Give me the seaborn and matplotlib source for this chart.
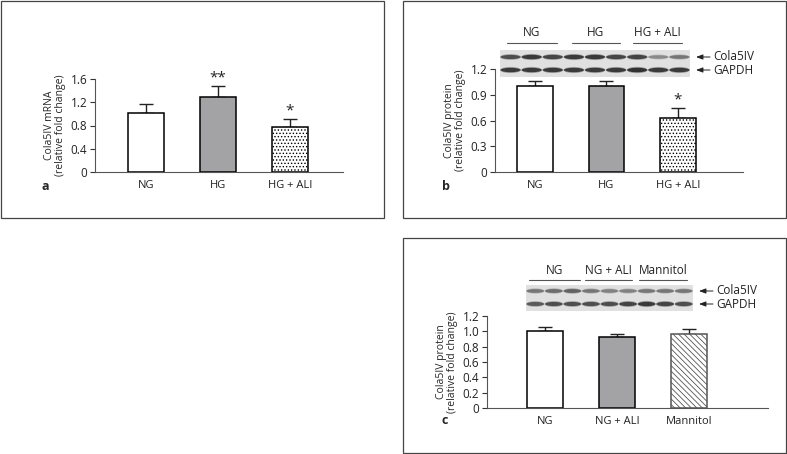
import numpy as np
import matplotlib
matplotlib.use('Agg')
import matplotlib.pyplot as plt
import seaborn as sns
from matplotlib.patches import Rectangle, Ellipse

sns.set_style('ticks')
plt.rcParams['font.family'] = ['Open Sans', 'DejaVu Sans']
plt.rcParams['hatch.linewidth'] = 0.6

# panel a - mRNA
cats_a = ['NG', 'HG', 'HG + ALI']
mean_a = [1.02, 1.285, 0.775]
err_a = [0.155, 0.20, 0.145]
stars_a = ['', '**', '*']

# panel b - protein
cats_b = ['NG', 'HG', 'HG + ALI']
mean_b = [1.0, 1.0, 0.63]
err_b = [0.057, 0.057, 0.112]
stars_b = ['', '', '*']

# panel c - protein, mannitol control
cats_c = ['NG', 'NG + ALI', 'Mannitol']
mean_c = [1.0, 0.928, 0.97]
err_c = [0.057, 0.042, 0.06]

# blot band strengths (9 lanes)
blot_b_col = [0.75, 0.85, 0.8, 0.85, 0.85, 0.8, 0.8, 0.45, 0.55]
blot_b_gapdh = [0.85, 0.85, 0.85, 0.85, 0.85, 0.85, 0.9, 0.85, 0.85]
blot_c_col = [0.55, 0.6, 0.65, 0.55, 0.5, 0.5, 0.55, 0.55, 0.55]
blot_c_gapdh = [0.7, 0.75, 0.75, 0.75, 0.75, 0.8, 0.85, 0.8, 0.75]

W, H = 787, 454
fig = plt.figure(figsize=(W / 100, H / 100), dpi=100)
FS_TICK = 8.5
FS_X = 8
FS_LAB = 7.5
FS_BLOT = 8.5
fills = ['white', '#a3a3a7', 'white']


def px_axes(left, right, base, top):
    return fig.add_axes([left / W, 1 - base / H, (right - left) / W, (base - top) / H])


def bar_panel(ax, cats, means, errs, fills, hatches, ylim, yticks, ylabel, xlim, stars=None):
    sns.barplot(x=cats, y=means, ax=ax, width=0.5, hue=cats, palette=fills,
                edgecolor='black', linewidth=1.1, legend=False, zorder=2)
    for p, h in zip(ax.patches, hatches):
        if h:
            p.set_hatch(h)
    ax.errorbar(range(len(cats)), means, yerr=[np.zeros(len(errs)), errs], fmt='none',
                ecolor='#222222', elinewidth=1.0, capsize=5, capthick=1.0, zorder=1)
    if stars:
        for i, s in enumerate(stars):
            if s:
                ax.text(i, means[i] + errs[i] + ylim[1] * 0.005, s, ha='center', va='bottom',
                        fontsize=11, color='#222222')
    ax.set_ylim(*ylim)
    ax.set_xlim(*xlim)
    ax.set_yticks(yticks)
    ax.set_yticklabels([('%.1f' % t) if t != 0 else '0' for t in yticks])
    ax.set_ylabel(ylabel, fontsize=FS_LAB, labelpad=3, linespacing=1.05)
    ax.tick_params(axis='y', labelsize=FS_TICK, length=3.5, width=0.8, pad=2, colors='#333333')
    ax.tick_params(axis='x', labelsize=FS_X, length=0, pad=6)
    for lbl in ax.get_yticklabels() + ax.get_xticklabels():
        lbl.set_color('#222222')
    sns.despine(ax=ax)
    for s in ['left', 'bottom']:
        ax.spines[s].set_linewidth(0.8)
        ax.spines[s].set_color('#555555')
    ax.set_facecolor('none')


ax_a = px_axes(95, 343, 172, 79)
bar_panel(ax_a, cats_a, mean_a, err_a, fills, [None, None, '.....'], (0, 1.6),
          [0, 0.4, 0.8, 1.2, 1.6], 'Cola5IV mRNA\n(relative fold change)', (-0.71, 2.74), stars_a)

ax_b = px_axes(495, 743, 172, 69)
bar_panel(ax_b, cats_b, mean_b, err_b, fills, [None, None, '.....'], (0, 1.2),
          [0, 0.3, 0.6, 0.9, 1.2], 'Cola5IV protein\n(relative fold change)', (-0.56, 2.91), stars_b)

ax_c = px_axes(487, 768, 408, 316)
bar_panel(ax_c, cats_c, mean_c, err_c, fills, [None, None, '\\\\\\\\\\\\'], (0, 1.2),
          [0, 0.2, 0.4, 0.6, 0.8, 1.0, 1.2], 'Cola5IV protein\n(relative fold change)', (-0.81, 3.09))
ax_c.patches[2].set_edgecolor('#555555')

# overlay in pixel coordinates for frames, blots and letters
ov = fig.add_axes([0, 0, 1, 1], zorder=5)
ov.set_xlim(0, W)
ov.set_ylim(H, 0)
ov.axis('off')
for (x0, y0, x1, y1) in [(1, 1, 384, 218), (403, 1, 786, 218), (403, 238, 786, 453)]:
    ov.add_patch(Rectangle((x0, y0), x1 - x0, y1 - y0, fill=False, lw=0.9, ec='#444444'))

for x, y, t in [(42, 186, 'a'), (442, 186, 'b'), (442, 421, 'c')]:
    ov.text(x, y, t, fontsize=9, fontweight='bold', ha='left', va='center')


def blot(x0, x1, y0, y1, col, gap, groups, glines, gy, ly, yc, yg):
    ov.add_patch(Rectangle((x0, y0), x1 - x0, y1 - y0, fc='#e0e0e0', ec='none'))
    lw = (x1 - x0) / 9
    for i in range(9):
        cx = x0 + lw * (i + 0.5)
        for yy, v in [(yc, col[i]), (yg, gap[i])]:
            g = 1 - v
            for k, a in [(1.0, 0.35), (0.7, 0.8)]:
                ov.add_patch(Ellipse((cx, yy), lw * 0.98 * (0.9 + 0.1 * k), 6 * k * (0.6 + 0.5 * v),
                                     fc=(g * 0.9, g * 0.9, g * 0.9), ec='none', alpha=a))
    for (a, b), name in zip(glines, groups):
        ov.plot([a, b], [ly, ly], color='#555555', lw=0.8)
        ov.text((a + b) / 2, gy, name, fontsize=FS_BLOT, ha='center', va='center', color='#222222')
    for yy, name in [(yc, 'Cola5IV'), (yg, 'GAPDH')]:
        ov.annotate('', xy=(x1 + 6, yy), xytext=(x1 + 20, yy),
                    arrowprops=dict(arrowstyle='-|>,head_length=0.4,head_width=0.15',
                                    lw=0.7, color='#222222', shrinkA=0, shrinkB=0))
        ov.text(x1 + 23, yy, name, fontsize=FS_BLOT, ha='left', va='center', color='#222222')


blot(500, 690, 50, 77, blot_b_col, blot_b_gapdh, cats_b,
     [(507, 557), (572, 620), (633, 682)], 33, 43, 57, 70)
blot(526, 693, 285, 311, blot_c_col, blot_c_gapdh, cats_c,
     [(529, 580), (585, 632), (639, 687)], 270, 280, 291, 304)

fig.savefig('out.png', dpi=100)
